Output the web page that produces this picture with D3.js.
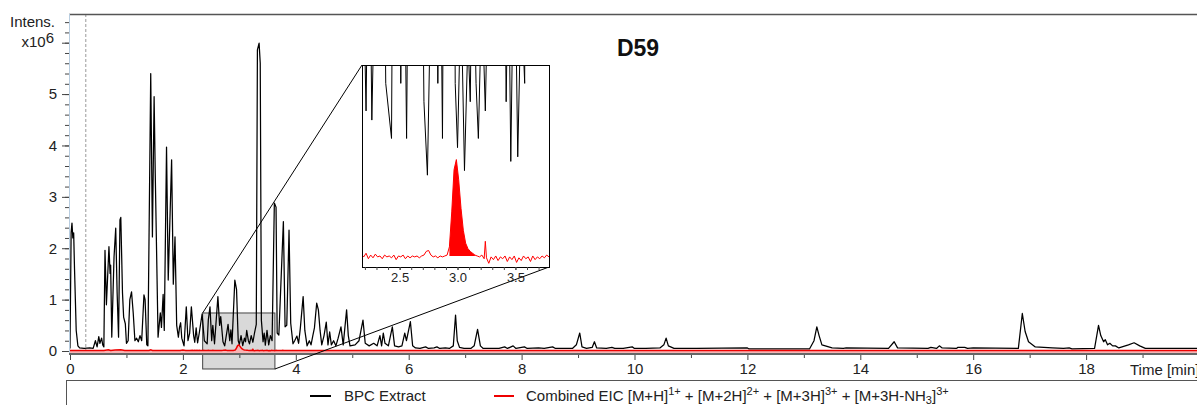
<!DOCTYPE html>
<html>
<head>
<meta charset="utf-8">
<script src="https://cdn.jsdelivr.net/npm/d3@7"></script>
<style>
body { margin: 0; background: #fff; }
svg { display: block; font-family: Arial, "Liberation Sans", sans-serif; }
</style>
</head>
<body>
<svg id="chart" width="1197" height="405"></svg>
<script>
// BPC trace, [time (min), intensity (x10^6)]
const bpc = [
	[0, 0.05], [0.02, 2.3], [0.035, 2.49], [0.05, 2.2], [0.065, 2.3], [0.08, 1.6], [0.11, 0.4], [0.14, 0.1],
	[0.17, 0.06], [0.25, 0.05], [0.35, 0.06], [0.41, 0.05], [0.45, 0.2], [0.48, 0.08], [0.51, 0.28], [0.53, 0.15],
	[0.56, 0.25], [0.58, 0.12], [0.6, 0.08], [0.62, 1.96], [0.645, 0.9], [0.69, 2.03], [0.71, 1.51], [0.72, 1.67],
	[0.74, 0.27], [0.78, 1.83], [0.81, 2.39], [0.835, 1.13], [0.86, 0.27], [0.885, 2.55], [0.9, 2.6], [0.93, 1.13],
	[0.95, 0.66], [0.98, 0.53], [1.0, 0.15], [1.03, 0.2], [1.06, 1.0], [1.09, 1.15], [1.12, 0.74], [1.15, 0.2],
	[1.18, 0.25], [1.21, 0.18], [1.24, 0.3], [1.27, 0.2], [1.31, 1.09], [1.33, 1.0], [1.36, 0.12], [1.38, 0.1],
	[1.43, 5.4], [1.46, 2.22], [1.49, 4.95], [1.51, 3.46], [1.56, 0.27], [1.6, 0.74], [1.62, 0.46], [1.65, 1.1],
	[1.67, 0.4], [1.71, 3.97], [1.74, 1.38], [1.8, 3.72], [1.83, 1.3], [1.86, 2.22], [1.89, 0.5], [1.92, 0.27],
	[1.94, 0.46], [1.96, 0.55], [1.98, 0.25], [2.02, 0.1], [2.06, 0.86], [2.09, 0.2], [2.12, 0.35], [2.15, 0.86],
	[2.19, 0.3], [2.21, 0.17], [2.235, 0.45], [2.26, 0.16], [2.29, 0.35], [2.34, 0.72], [2.38, 0.2], [2.43, 0.14],
	[2.45, 0.6], [2.48, 0.86], [2.51, 0.2], [2.53, 0.5], [2.56, 0.14], [2.62, 1.06], [2.65, 0.5], [2.67, 0.67],
	[2.71, 0.18], [2.74, 0.10], [2.8, 0.52], [2.83, 0.2], [2.85, 0.41], [2.87, 0.14], [2.92, 1.38], [2.95, 1.2],
	[2.98, 0.2], [3.0, 0.13], [3.03, 0.3], [3.06, 0.105], [3.09, 0.25], [3.11, 0.18], [3.13, 0.4], [3.16, 0.2],
	[3.18, 0.14], [3.21, 0.3], [3.24, 0.17], [3.27, 0.36], [3.3, 0.52], [3.32, 5.86], [3.35, 5.99], [3.37, 5.6],
	[3.39, 0.6], [3.42, 0.18], [3.44, 0.35], [3.46, 0.115], [3.49, 0.4], [3.52, 0.12], [3.55, 0.3], [3.58, 0.2],
	[3.62, 2.88], [3.65, 2.8], [3.67, 0.35], [3.7, 0.31], [3.78, 2.52], [3.81, 0.47], [3.84, 0.5], [3.88, 2.35],
	[3.91, 0.54], [3.95, 0.14], [3.98, 0.2], [4.02, 0.29], [4.05, 0.15], [4.08, 0.44], [4.13, 1.06], [4.16, 0.4],
	[4.2, 0.1], [4.24, 0.2], [4.27, 0.12], [4.3, 0.29], [4.33, 0.45], [4.37, 0.93], [4.4, 0.8], [4.43, 0.4],
	[4.46, 0.12], [4.5, 0.3], [4.54, 0.56], [4.57, 0.12], [4.6, 0.37], [4.63, 0.12], [4.67, 0.2], [4.71, 0.1],
	[4.75, 0.25], [4.8, 0.47], [4.84, 0.12], [4.9, 0.8], [4.93, 0.3], [4.96, 0.1], [5.05, 0.12], [5.12, 0.2],
	[5.19, 0.6], [5.23, 0.15], [5.3, 0.1], [5.38, 0.15], [5.44, 0.1], [5.49, 0.3], [5.52, 0.1], [5.55, 0.35],
	[5.58, 0.15], [5.64, 0.1], [5.71, 0.47], [5.75, 0.1], [5.82, 0.08], [5.88, 0.1], [5.93, 0.35], [5.96, 0.2],
	[6.03, 0.57], [6.07, 0.1], [6.12, 0.06], [6.2, 0.05], [6.3, 0.08], [6.35, 0.05], [6.45, 0.06], [6.5, 0.08],
	[6.55, 0.05], [6.65, 0.06], [6.72, 0.05], [6.79, 0.1], [6.83, 0.7], [6.86, 0.2], [6.9, 0.07], [6.98, 0.05],
	[7.1, 0.05], [7.16, 0.1], [7.22, 0.42], [7.27, 0.1], [7.32, 0.05], [7.6, 0.05], [7.7, 0.08], [7.75, 0.05],
	[7.85, 0.1], [7.9, 0.05], [8.05, 0.08], [8.1, 0.05], [8.3, 0.06], [8.4, 0.05], [8.55, 0.08], [8.6, 0.05],
	[8.9, 0.05], [8.97, 0.12], [9.03, 0.35], [9.07, 0.08], [9.15, 0.05], [9.25, 0.07], [9.29, 0.18], [9.33, 0.06],
	[9.5, 0.05], [9.6, 0.07], [9.65, 0.05], [9.8, 0.05], [9.96, 0.08], [10.0, 0.05], [10.2, 0.05], [10.45, 0.06],
	[10.52, 0.12], [10.56, 0.25], [10.6, 0.1], [10.7, 0.05], [11.0, 0.05], [11.1, 0.05], [12.0, 0.06], [12.03, 0.04],
	[13.1, 0.04], [13.18, 0.2], [13.23, 0.47], [13.27, 0.3], [13.32, 0.12], [13.5, 0.06], [13.7, 0.05], [13.75, 0.06],
	[14.5, 0.05], [14.6, 0.18], [14.66, 0.06], [15.2, 0.05], [15.25, 0.07], [15.35, 0.05], [15.4, 0.1], [15.45, 0.06],
	[15.7, 0.05], [15.73, 0.07], [15.85, 0.07], [15.9, 0.05], [16.0, 0.06], [16.8, 0.05], [16.87, 0.73], [16.92, 0.38],
	[16.98, 0.18], [17.1, 0.08], [17.4, 0.06], [17.6, 0.05], [17.7, 0.06], [17.75, 0.04], [18.15, 0.05], [18.22, 0.5],
	[18.26, 0.3], [18.31, 0.18], [18.34, 0.22], [18.38, 0.12], [18.42, 0.15], [18.47, 0.1], [18.52, 0.1], [18.58, 0.06],
	[18.75, 0.12], [18.85, 0.16], [18.95, 0.1], [19.05, 0.05], [20, 0.05]
];

// Combined EIC trace, [time (min), intensity (x10^6)]
const eic = [
	[0, 0.01], [0.6, 0.01], [0.68, 0.025], [0.72, 0.01], [0.8, 0.02], [0.9, 0.025], [0.97, 0.01], [1.4, 0.01],
	[1.43, 0.025], [1.46, 0.01], [1.95, 0.01], [2.0, 0.02], [2.05, 0.01], [2.12, 0.012],
	[2.17, 0.014], [2.19, 0.011], [2.21, 0.015], [2.23, 0.009], [2.25, 0.013], [2.27, 0.010], [2.29, 0.014], [2.31, 0.011],
	[2.33, 0.012], [2.35, 0.009], [2.37, 0.013], [2.39, 0.011], [2.41, 0.012], [2.43, 0.010], [2.45, 0.013], [2.47, 0.008],
	[2.49, 0.012], [2.51, 0.011], [2.53, 0.013], [2.55, 0.009], [2.57, 0.012], [2.59, 0.010], [2.61, 0.012], [2.63, 0.011],
	[2.65, 0.012], [2.67, 0.010], [2.69, 0.012], [2.71, 0.013], [2.73, 0.017], [2.75, 0.018], [2.77, 0.013], [2.79, 0.011],
	[2.81, 0.012], [2.83, 0.010], [2.85, 0.012], [2.87, 0.011], [2.89, 0.012], [2.91, 0.013], [2.93, 0.022], [2.95, 0.06],
	[2.97, 0.106], [2.99, 0.117], [3.01, 0.095], [3.03, 0.064], [3.05, 0.040], [3.07, 0.026], [3.09, 0.020], [3.11, 0.017],
	[3.13, 0.015], [3.15, 0.013], [3.17, 0.012], [3.19, 0.011], [3.21, 0.013], [3.23, 0.009], [3.24, 0.028], [3.25, 0.010],
	[3.27, 0.004], [3.29, 0.011], [3.31, 0.008], [3.33, 0.012], [3.35, 0.007], [3.37, 0.011], [3.39, 0.009], [3.41, 0.012],
	[3.43, 0.006], [3.45, 0.011], [3.47, 0.008], [3.49, 0.012], [3.51, 0.005], [3.53, 0.010], [3.55, 0.007], [3.57, 0.012],
	[3.59, 0.009], [3.61, 0.011], [3.63, 0.006], [3.65, 0.012], [3.67, 0.008], [3.69, 0.011], [3.71, 0.009], [3.73, 0.012],
	[3.75, 0.010], [3.77, 0.013], [3.79, 0.011], [3.85, 0.01], [20, 0.01]
];

const xMajorTicks = [0, 2, 4, 6, 8, 10, 12, 14, 16, 18];
const xMinorTicks = [1, 3, 5, 7, 9, 11, 13, 15, 17, 19];
const yMajorTicks = [0, 1, 2, 3, 4, 5, 6];
const yLabelled = [0, 1, 2, 3, 4, 5];
const insetTicks = [2.2, 2.3, 2.4, 2.5, 2.6, 2.7, 2.8, 2.9, 3.0, 3.1, 3.2, 3.3, 3.4, 3.5, 3.6, 3.7];
const insetLabels = [2.5, 3.0, 3.5];
const zoomTimes = [2.35, 3.63];      // grey marked region
const zoomIntens = [-0.35, 0.74];
const peakWindow = [2.93, 3.15];     // filled EIC peak in the inset
const eicBase = 0.012;
const deadTime = 0.28;

const svg = d3.select("#chart");

const x = d3.scaleLinear().domain([0, 20]).range([70, 1199]);
const y = d3.scaleLinear().domain([0, 6.5]).range([351, 17]);
const plotTop = 14, plotBottom = 354, plotLeft = 69;

svg.append("defs").append("clipPath").attr("id", "plotClip")
	.append("rect").attr("x", plotLeft).attr("y", plotTop)
	.attr("width", 1197 - plotLeft).attr("height", plotBottom - plotTop);

// grey zoom region (under the traces)
svg.append("rect")
	.attr("x", x(zoomTimes[0])).attr("y", y(zoomIntens[1]))
	.attr("width", x(zoomTimes[1]) - x(zoomTimes[0]))
	.attr("height", y(zoomIntens[0]) - y(zoomIntens[1]))
	.attr("fill", "#d9d9d9").attr("stroke", "#444").attr("stroke-width", 1);

// dead time marker
svg.append("line")
	.attr("x1", x(deadTime)).attr("x2", x(deadTime))
	.attr("y1", plotTop).attr("y2", plotBottom)
	.attr("stroke", "#999").attr("stroke-dasharray", "3,2");

const plot = svg.append("g").attr("clip-path", "url(#plotClip)");

plot.append("path")
	.datum(eic)
	.attr("fill", "#f6b4b4")
	.attr("d", d3.area().x(d => x(d[0])).y0(plotBottom).y1(d => y(d[1])));

plot.append("path")
	.datum(bpc)
	.attr("fill", "none").attr("stroke", "#000").attr("stroke-width", 1.25)
	.attr("stroke-linejoin", "round")
	.attr("d", d3.line().x(d => x(d[0])).y(d => y(d[1])));

plot.append("path")
	.datum(eic)
	.attr("fill", "none").attr("stroke", "#e00").attr("stroke-width", 1.5)
	.attr("d", d3.line().x(d => x(d[0])).y(d => y(d[1])));

// axes
const xMinor = svg.append("g").attr("transform", `translate(0,${plotBottom})`)
	.call(d3.axisBottom(x).tickValues(xMinorTicks).tickSize(4).tickFormat(""));
const xMajor = svg.append("g").attr("transform", `translate(0,${plotBottom})`)
	.call(d3.axisBottom(x).tickValues(xMajorTicks).tickSize(6).tickPadding(3).tickFormat(d3.format("d")));
const yMinor = svg.append("g").attr("transform", `translate(${plotLeft},0)`)
	.call(d3.axisLeft(y).tickValues(d3.range(0, 6.5, 0.2)).tickSize(4).tickFormat(""));
const yMajor = svg.append("g").attr("transform", `translate(${plotLeft},0)`)
	.call(d3.axisLeft(y).tickValues(yMajorTicks).tickSize(7).tickPadding(5)
		.tickFormat(d => yLabelled.includes(d) ? d : ""));

[xMinor, xMajor, yMinor, yMajor].forEach(function(g) {
	g.select(".domain").remove();
	g.selectAll("line").attr("stroke", "#444");
	g.selectAll("text").attr("fill", "#222").style("font-size", "15px")
		.style("font-family", "Arial, 'Liberation Sans', sans-serif");
});

// frame
svg.append("line").attr("x1", plotLeft).attr("x2", 1197).attr("y1", plotTop + 0.5).attr("y2", plotTop + 0.5)
	.attr("stroke", "#555").attr("stroke-width", 1.5);
svg.append("line").attr("x1", plotLeft + 0.5).attr("x2", plotLeft + 0.5).attr("y1", plotTop).attr("y2", plotBottom)
	.attr("stroke", "#b8cde0");
svg.append("line").attr("x1", plotLeft).attr("x2", 1197).attr("y1", plotBottom).attr("y2", plotBottom)
	.attr("stroke", "#666").attr("stroke-width", 2);

// axis titles
svg.append("text").attr("x", 55).attr("y", 27).attr("text-anchor", "end")
	.style("font-size", "15px").attr("fill", "#222").text("Intens.");
const xl = svg.append("text").attr("x", 54).attr("y", 47).attr("text-anchor", "end")
	.style("font-size", "15px").attr("fill", "#222");
xl.append("tspan").text("x10");
xl.append("tspan").attr("dy", -4).text("6");
// the reference cuts this title at the right edge
svg.append("text").attr("x", 1130).attr("y", 375)
	.style("font-size", "15px").attr("fill", "#222").text("Time [min]");

svg.append("text").attr("x", 638).attr("y", 56).attr("text-anchor", "middle")
	.style("font-size", "23px").style("font-weight", "bold").attr("fill", "#111").text("D59");

// inset
const ix = d3.scaleLinear().domain([2.175, 3.79]).range([362, 549]);
const iy = d3.scaleLinear().domain([0, 0.22]).range([267, 65]);

// connectors from the grey region to the inset
svg.append("line")
	.attr("x1", x(zoomTimes[0])).attr("y1", y(zoomIntens[1]))
	.attr("x2", ix.range()[0]).attr("y2", iy.range()[1])
	.attr("stroke", "#000").attr("stroke-width", 1);
svg.append("line")
	.attr("x1", x(zoomTimes[1])).attr("y1", y(zoomIntens[0]))
	.attr("x2", ix.range()[1]).attr("y2", iy.range()[0])
	.attr("stroke", "#000").attr("stroke-width", 1);

svg.select("defs").append("clipPath").attr("id", "insetClip")
	.append("rect").attr("x", ix.range()[0]).attr("y", iy.range()[1])
	.attr("width", ix.range()[1] - ix.range()[0]).attr("height", iy.range()[0] - iy.range()[1]);

svg.append("rect")
	.attr("x", ix.range()[0]).attr("y", iy.range()[1])
	.attr("width", ix.range()[1] - ix.range()[0]).attr("height", iy.range()[0] - iy.range()[1])
	.attr("fill", "#fff");

const inset = svg.append("g").attr("clip-path", "url(#insetClip)");

inset.append("path")
	.datum(eic.filter(d => d[0] >= peakWindow[0] && d[0] <= peakWindow[1]))
	.attr("fill", "#f00")
	.attr("d", d3.area().x(d => ix(d[0])).y0(iy(eicBase)).y1(d => iy(d[1])));

inset.append("path")
	.datum(eic)
	.attr("fill", "none").attr("stroke", "#f00").attr("stroke-width", 1)
	.attr("d", d3.line().x(d => ix(d[0])).y(d => iy(d[1])));

inset.append("path")
	.datum(bpc)
	.attr("fill", "none").attr("stroke", "#000").attr("stroke-width", 1)
	.attr("d", d3.line().x(d => ix(d[0])).y(d => iy(d[1])));

svg.append("rect")
	.attr("x", ix.range()[0] + 0.5).attr("y", iy.range()[1] + 0.5)
	.attr("width", ix.range()[1] - ix.range()[0]).attr("height", iy.range()[0] - iy.range()[1])
	.attr("fill", "none").attr("stroke", "#000");

const iax = svg.append("g").attr("transform", `translate(0,${iy.range()[0]})`)
	.call(d3.axisBottom(ix).tickValues(insetTicks).tickSize(3).tickFormat(""));
const iaxL = svg.append("g").attr("transform", `translate(0,${iy.range()[0]})`)
	.call(d3.axisBottom(ix).tickValues(insetLabels).tickSize(3).tickPadding(3).tickFormat(d3.format(".1f")));
[iax, iaxL].forEach(function(g) {
	g.select(".domain").remove();
	g.selectAll("line").attr("stroke", "#444");
	g.selectAll("text").attr("fill", "#222").style("font-size", "13px")
		.style("font-family", "Arial, 'Liberation Sans', sans-serif");
});

// legend
svg.append("rect").attr("x", 66.5).attr("y", 380.5).attr("width", 1200).attr("height", 60)
	.attr("fill", "none").attr("stroke", "#555");
svg.append("line").attr("x1", 310).attr("x2", 331).attr("y1", 396).attr("y2", 396)
	.attr("stroke", "#000").attr("stroke-width", 2);
svg.append("text").attr("x", 344).attr("y", 401)
	.style("font-size", "15px").attr("fill", "#222").text("BPC Extract");
svg.append("line").attr("x1", 494).attr("x2", 514).attr("y1", 396).attr("y2", 396)
	.attr("stroke", "#e00").attr("stroke-width", 2);

const leg = svg.append("text").attr("x", 526).attr("y", 401)
	.style("font-size", "15px").attr("fill", "#222");
const parts = [
	["Combined EIC [M+H]", 0], ["1+", 1], [" + [M+2H]", 0], ["2+", 1], [" + [M+3H]", 0], ["3+", 1],
	[" + [M+3H-NH", 0], ["3", -1], ["]", 0], ["3+", 1]
];
let shift = 0;
parts.forEach(function(p) {
	const target = p[1] === 1 ? -6 : p[1] === -1 ? 3 : 0;
	leg.append("tspan")
		.attr("dy", target - shift)
		.style("font-size", p[1] === 0 ? "15px" : "11px")
		.text(p[0]);
	shift = target;
});
</script>
</body>
</html>
